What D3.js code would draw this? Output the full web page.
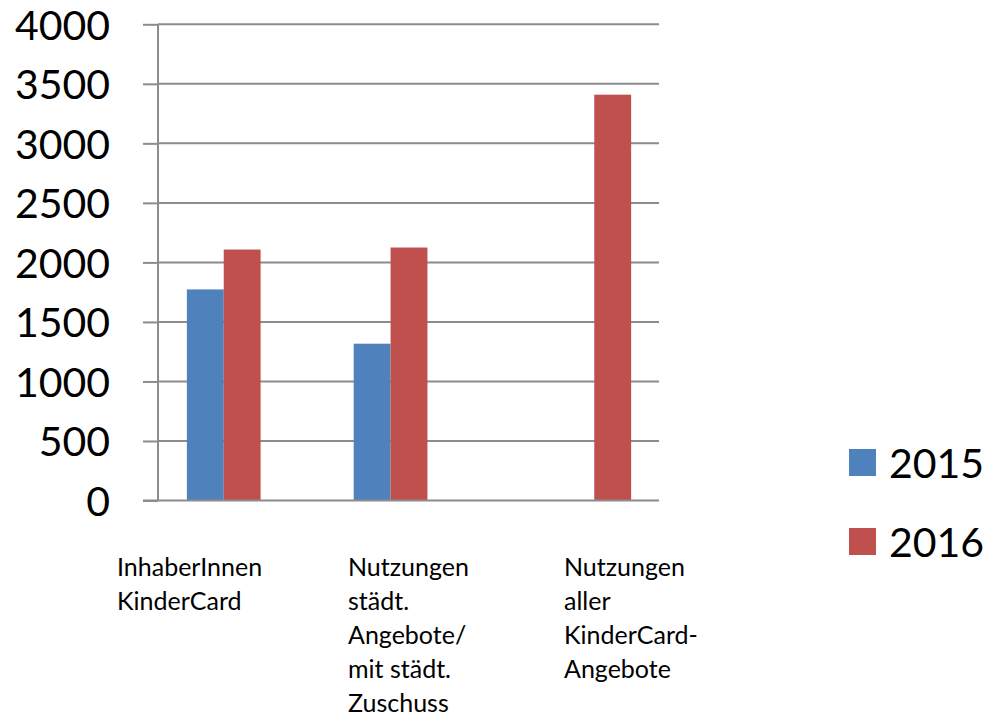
<!DOCTYPE html>
<html>
<head>
<meta charset="utf-8">
<script src="https://cdn.jsdelivr.net/npm/d3@7"></script>
<style>
  html, body { margin: 0; padding: 0; background: #fff; }
  svg { display: block; }
  text { font-family: Lato, "Open Sans", sans-serif; fill: #000; }
</style>
</head>
<body>
<svg id="chart" width="988" height="719"></svg>
<script>
// ---- data ----
const categories = [
  ["InhaberInnen", "KinderCard"],
  ["Nutzungen", "städt.", "Angebote/", "mit städt.", "Zuschuss"],
  ["Nutzungen", "aller", "KinderCard-", "Angebote"]
];
const seriesNames = ["2015", "2016"];
const values2015 = [1773, 1317, 0];
const values2016 = [2108, 2125, 0];
// the third category's 2016 value sits in the chart's third (unnamed) series slot
const values2016all = [0, 0, 3409];
const yTicks = [0, 500, 1000, 1500, 2000, 2500, 3000, 3500, 4000];

// ---- layout ----
const colors = ["#4F81BD", "#C0504D", "#C0504D"];
const plot = { left: 158, right: 660, top: 24.3, bottom: 500.5 };
const labelLeft = [117, 348, 564];

const svg = d3.select("#chart");
const catIdx = categories.map((c, i) => i);
const slotKeys = ["2015", "2016", "2016all"];

const x0 = d3.scaleBand().domain(catIdx).range([plot.left, plot.right])
  .paddingInner(0.337).paddingOuter(0.173);
const x1 = d3.scaleBand().domain(slotKeys).range([0, x0.bandwidth()]);
const y = d3.scaleLinear().domain([0, 4000]).range([plot.bottom, plot.top]);

// gridlines
svg.append("g").selectAll("line").data(yTicks.filter(d => d > 0)).join("line")
  .attr("x1", plot.left).attr("x2", plot.right - 1)
  .attr("y1", d => y(d)).attr("y2", d => y(d))
  .attr("stroke", "#8c8c8c").attr("stroke-width", 2);

// bars
const series = [values2015, values2016, values2016all];
series.forEach((vals, si) => {
  svg.append("g").selectAll("rect").data(vals.map((v, i) => ({ v, i })).filter(d => d.v > 0)).join("rect")
    .attr("x", d => x0(d.i) + x1(slotKeys[si]))
    .attr("width", x1.bandwidth())
    .attr("y", d => y(d.v))
    .attr("height", d => y(0) - y(d.v))
    .attr("fill", colors[si]);
});

// y axis
const yAxis = d3.axisLeft(y).tickValues(yTicks).tickSize(15).tickPadding(33)
  .tickFormat(d3.format("d"));
const ga = svg.append("g").attr("transform", `translate(${plot.left},0)`).call(yAxis);
ga.select(".domain").attr("stroke", "#8c8c8c").attr("stroke-width", 2)
  .attr("d", `M0,${plot.top}V${plot.bottom}`);
ga.selectAll(".tick line").attr("stroke", "#8c8c8c").attr("stroke-width", 2);
ga.selectAll(".tick text").attr("font-size", 41).attr("font-family", "Lato, sans-serif")
  .attr("fill", "#000").attr("dy", "0.36em");

// baseline
svg.append("line")
  .attr("x1", plot.left - 15).attr("x2", plot.right - 1)
  .attr("y1", y(0)).attr("y2", y(0))
  .attr("stroke", "#8c8c8c").attr("stroke-width", 2);

// category labels
const lab = svg.append("g");
categories.forEach((lines, i) => {
  const t = lab.append("text").attr("font-size", 25);
  lines.forEach((ln, j) => {
    t.append("tspan").attr("x", labelLeft[i]).attr("y", 575.5 + j * 34).text(ln);
  });
});

// legend
const leg = svg.append("g");
seriesNames.forEach((s, i) => {
  const yy = 449 + i * 79;
  leg.append("rect").attr("x", 849).attr("y", yy).attr("width", 27).attr("height", 27)
    .attr("fill", colors[i]);
  leg.append("text").attr("x", 889).attr("y", yy + 29).attr("font-size", 41).text(s);
});
</script>
</body>
</html>
